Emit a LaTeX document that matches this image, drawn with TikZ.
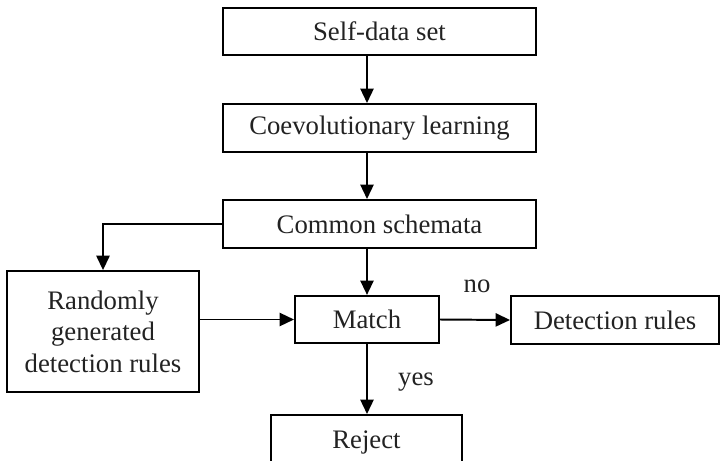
\documentclass[tikz,border=0pt]{standalone}
\usepackage{fontspec}
\setmainfont{Liberation Serif}
\usepackage{tikz}
\usetikzlibrary{positioning,arrows.meta,calc}
\definecolor{boxtext}{RGB}{34,34,34}

\tikzset{
  flowbox/.style={rectangle,draw=black,line width=1.4pt,text=boxtext,
                  font=\fontsize{19}{22.5}\selectfont,align=center,
                  inner sep=0pt},
  flowarrow/.style={line width=1.4pt,-{Triangle[length=0.36cm,width=0.33cm]}},
  flowlabel/.style={text=boxtext,font=\fontsize{19}{22.5}\selectfont}
}

\begin{document}
\begin{tikzpicture}[x=0.025cm,y=-0.025cm]
\clip (0,0) rectangle (721,460);
\useasboundingbox (0,0) rectangle (721,460);

% main column
\node[flowbox,minimum width=7.82cm,minimum height=1.18cm] (selfdata) at (379.5,31.5) {Self-data set};
\node[flowbox,minimum width=7.82cm,minimum height=1.2cm] (coevo) at (379.5,128) {Coevolutionary learning};
\node[flowbox,minimum width=7.82cm,minimum height=1.2cm] (schemata) at (379.5,224) {Common schemata};

% decision row
\node[flowbox,minimum width=4.8cm,minimum height=3.02cm] (random) at (103,331.5) {Randomly\\generated\\detection rules};
\node[flowbox,minimum width=3.6cm,minimum height=1.18cm] (match) at (367,319.5) {Match};
\node[flowbox,minimum width=5.2cm,minimum height=1.2cm] (detect) at (615,320) {Detection rules};
\node[flowbox,minimum width=4.78cm,minimum height=1.35cm] (reject) at (366.5,442) {Reject};

% connectors
\draw[flowarrow] (selfdata.south -| match) -- (coevo.north -| match);
\draw[flowarrow] (coevo.south -| match) -- (schemata.north -| match);
\draw[flowarrow] (schemata.south -| match) -- (match.north);
\draw[flowarrow] (schemata.west) -| (random.north);
\draw[flowarrow] (random.east |- match) -- (match.west);
\draw[flowarrow] (match.east) -- (detect.west);
\draw[flowarrow] (match.south) -- (reject.north -| match.south);

% branch labels
\node[flowlabel] (nolabel) at (477,286) {no};
\node[flowlabel] (yeslabel) at (416,382) {yes};
\end{tikzpicture}
\end{document}
